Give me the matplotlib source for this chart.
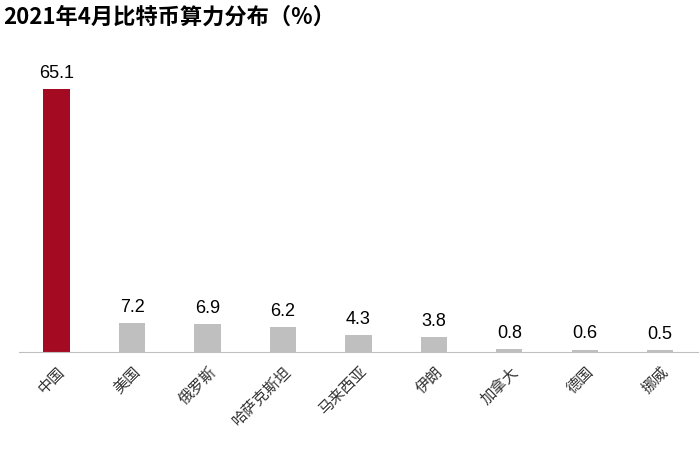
import matplotlib
matplotlib.use("Agg")
import matplotlib.pyplot as plt

plt.rcParams['font.family'] = ['Noto Sans CJK SC', 'DejaVu Sans']

categories = ["中国", "美国", "俄罗斯", "哈萨克斯坦", "马来西亚", "伊朗", "加拿大", "德国", "挪威"]
values = [65.1, 7.2, 6.9, 6.2, 4.3, 3.8, 0.8, 0.6, 0.5]
colors = ["#A50A23"] + ["#BFBFBF"] * 8

fig = plt.figure(figsize=(7, 4.55), dpi=100)
ax = fig.add_axes([0.027, 0.226, 0.97, 0.666])
x = range(len(categories))
ax.bar(x, values, width=0.35, color=colors)
for i, v in zip(x, values):
    ax.text(i, v + 1.8, f"{v}", ha="center", va="bottom", fontsize=13, family="Liberation Sans")
ax.set_xlim(-0.5, len(categories) - 0.5)
ax.set_ylim(0, 75)
ax.set_xticks(list(x))
ax.set_xticklabels(categories, rotation=45, ha="right", rotation_mode="anchor", fontsize=11, color="#333333")
ax.tick_params(axis="x", length=0, pad=8)
ax.set_yticks([])
for s in ["top", "right", "left"]:
    ax.spines[s].set_visible(False)
ax.spines["bottom"].set_color("#BFBFBF")
fig.text(0.005, 0.962, "2021年4月比特币算力分布（%）", fontsize=16, fontweight="bold", va="center", ha="left")
fig.savefig("out.png", dpi=100)
